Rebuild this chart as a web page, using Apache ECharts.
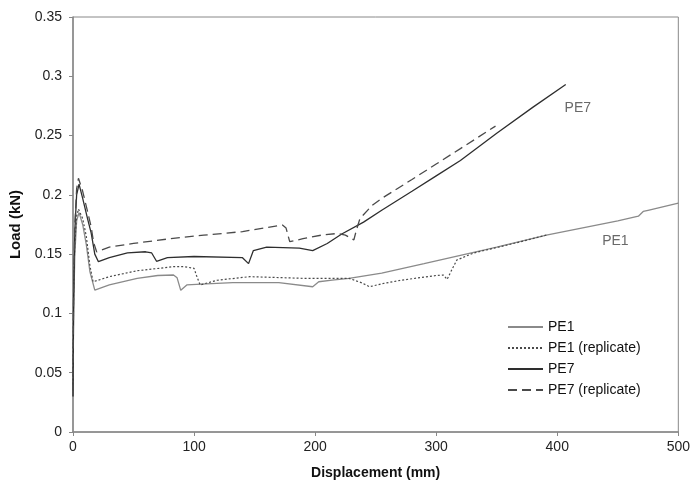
<!DOCTYPE html>
<html><head><meta charset="utf-8">
<script src="https://cdn.jsdelivr.net/npm/echarts@6/dist/echarts.min.js"></script>
<style>html,body{margin:0;padding:0;background:#fff}#c{width:693px;height:491px}</style>
</head><body><div id="c"></div>
<script>
// Data: [displacement (mm), load (kN)]
const pe1 = [[0,0.03],[0.5,0.1],[1.5,0.15],[3,0.178],[5,0.185],[8,0.175],[11,0.158],[14,0.135],[18,0.1197],[30,0.124],[53,0.1296],[70,0.132],[83,0.1324],[86,0.13],[89,0.1195],[94,0.124],[110,0.125],[132,0.126],[170,0.126],[198,0.1225],[203,0.1267],[214,0.128],[228,0.1296],[255,0.134],[290,0.142],[320,0.149],[350,0.156],[391,0.166],[420,0.172],[450,0.178],[467,0.182],[471,0.186],[475,0.187],[500,0.193]];
const pe1Rep = [[0,0.04],[0.5,0.12],[1.5,0.16],[3,0.182],[4.5,0.188],[8,0.18],[11,0.165],[14,0.14],[16.6,0.1267],[30,0.131],[53,0.136],[83,0.1394],[92,0.1394],[100,0.138],[102,0.132],[105,0.124],[119,0.128],[146,0.131],[190,0.1296],[228,0.1296],[238,0.126],[245,0.1225],[255,0.125],[271,0.128],[300,0.132],[306,0.1324],[309,0.1287],[313,0.137],[317,0.145],[331,0.151],[360,0.158],[391,0.166]];
const pe7 = [[0,0.03],[0.5,0.11],[1.5,0.17],[3,0.2],[5,0.209],[8,0.197],[12,0.18],[15,0.168],[18,0.15],[21,0.1436],[30,0.147],[45,0.151],[60,0.152],[65,0.151],[69,0.144],[78,0.147],[100,0.148],[140,0.147],[145,0.142],[149,0.153],[160,0.156],[187,0.155],[198,0.153],[210,0.159],[222,0.167],[240,0.177],[255,0.187],[280,0.203],[300,0.216],[320,0.229],[350,0.252],[380,0.274],[407,0.293]];
const pe7Rep = [[0,0.035],[0.5,0.12],[1.5,0.175],[3,0.205],[4.5,0.214],[8,0.203],[12,0.186],[15,0.173],[17,0.16],[19.5,0.152],[30,0.156],[50,0.159],[80,0.163],[108,0.166],[140,0.169],[173,0.1745],[176,0.172],[179,0.1605],[190,0.163],[205,0.166],[219,0.1675],[225,0.166],[232,0.162],[234,0.17],[237,0.18],[247,0.191],[255,0.197],[280,0.213],[300,0.226],[320,0.239],[349,0.258]];
const seriesNames = ['PE1','PE1 (replicate)','PE7','PE7 (replicate)'];
const annotations = [{text:'PE7', x:417, y:0.273},{text:'PE1', x:448, y:0.161}];
const yTicks = {min:0, max:0.35, interval:0.05};
const xTicks = {min:0, max:500, interval:100};

const chart = echarts.init(document.getElementById('c'), null, {renderer:'canvas'});
const font = 'Liberation Sans, Arial, sans-serif';
function lineSeries(name, data, color, type, width){
  return {name, type:'line', data, showSymbol:false, symbol:'none', smooth:false,
    lineStyle:{color, width, type}, itemStyle:{color}, animation:false, z:3};
}
const s = [
  lineSeries(seriesNames[0], pe1, '#8a8a8a', 'solid', 1.3),
  lineSeries(seriesNames[1], pe1Rep, '#4a4a4a', [2,2], 1.2),
  lineSeries(seriesNames[2], pe7, '#2e2e2e', 'solid', 1.3),
  lineSeries(seriesNames[3], pe7Rep, '#4a4a4a', [9,5], 1.3)
];
s.push({type:'scatter', data: annotations.map(a=>({value:[a.x,a.y], label:{formatter:a.text}})),
  symbolSize:0, silent:true, animation:false,
  label:{show:true, position:'inside', color:'#444', fontSize:14, fontFamily:font}});
chart.setOption({
  backgroundColor:'#fff',
  animation:false,
  grid:{left:68, right:12, top:17, bottom:59, show:true, borderColor:'#888', borderWidth:1},
  legend:{data:seriesNames, orient:'vertical', left:502, top:315, itemWidth:35, itemHeight:14, itemGap:7,
    itemStyle:{color:'rgba(0,0,0,0)', borderWidth:0},
    textStyle:{fontSize:14, color:'#111', fontFamily:font}},
  xAxis:{type:'value', min:xTicks.min, max:xTicks.max, interval:xTicks.interval,
    name:'Displacement (mm)', nameLocation:'middle', nameGap:34,
    nameTextStyle:{fontSize:14, fontWeight:'bold', color:'#111', fontFamily:'Liberation Sans Narrow, Arial Narrow, sans-serif'},
    axisLine:{lineStyle:{color:'#888', width:1.5}}, axisTick:{length:4, lineStyle:{color:'#888'}},
    axisLabel:{fontSize:14, color:'#222', margin:8, fontFamily:font}, splitLine:{show:false}},
  yAxis:{type:'value', min:yTicks.min, max:yTicks.max, interval:yTicks.interval,
    name:'Load (kN)', nameLocation:'middle', nameGap:50,
    nameTextStyle:{fontSize:15, fontWeight:'bold', color:'#111', fontFamily:font},
    axisLine:{show:true, lineStyle:{color:'#888', width:1.5}}, axisTick:{show:true, length:4, lineStyle:{color:'#888'}},
    axisLabel:{fontSize:14, color:'#222', margin:11, fontFamily:font}, splitLine:{show:false}},
  series:s
});
</script></body></html>
